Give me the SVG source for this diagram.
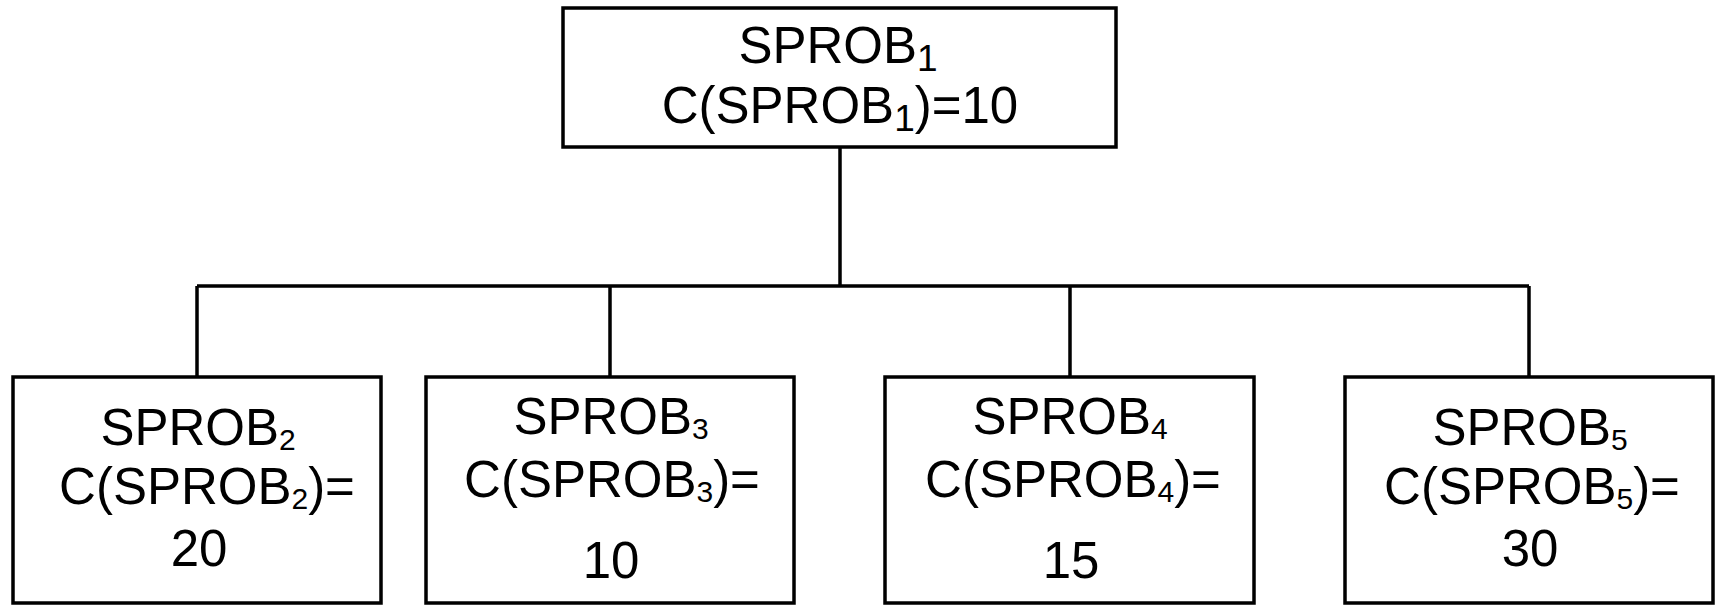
<svg xmlns="http://www.w3.org/2000/svg" width="1715" height="606" viewBox="0 0 1715 606">
<style>
.box{fill:#fff;stroke:#000;stroke-width:3.5}
.ln{fill:none;stroke:#000;stroke-width:3.5}
text{font-family:"Liberation Sans",Arial,sans-serif;font-size:51px;fill:#000;text-anchor:middle}
.s1{font-size:37px}
.s{font-size:30px}
</style>
<rect width="1715" height="606" fill="#fff"/>
<g id="connectors">
<path class="ln" d="M840,147 V286 M197,286 H1529 M197,286 V377 M610,286 V377 M1070,286 V377 M1529,286 V377"/>
</g>
<g id="n1">
<rect class="box" x="563" y="8" width="553" height="139"/>
<text x="838" y="63">SPROB<tspan class="s1" dy="8">1</tspan></text>
<text x="840" y="123">C(SPROB<tspan class="s1" dy="8">1</tspan><tspan dy="-8">)=10</tspan></text>
</g>
<g id="n2">
<rect class="box" x="13" y="377" width="368" height="226"/>
<text x="198" y="445">SPROB<tspan class="s" dy="5">2</tspan></text>
<text x="207" y="504">C(SPROB<tspan class="s" dy="5">2</tspan><tspan dy="-5">)=</tspan></text>
<text x="199" y="566">20</text>
</g>
<g id="n3">
<rect class="box" x="426" y="377" width="368" height="226"/>
<text x="611" y="434">SPROB<tspan class="s" dy="5">3</tspan></text>
<text x="612" y="497">C(SPROB<tspan class="s" dy="5">3</tspan><tspan dy="-5">)=</tspan></text>
<text x="611" y="578">10</text>
</g>
<g id="n4">
<rect class="box" x="885" y="377" width="369" height="226"/>
<text x="1070" y="434">SPROB<tspan class="s" dy="5">4</tspan></text>
<text x="1073" y="497">C(SPROB<tspan class="s" dy="5">4</tspan><tspan dy="-5">)=</tspan></text>
<text x="1071" y="578">15</text>
</g>
<g id="n5">
<rect class="box" x="1345" y="377" width="368" height="226"/>
<text x="1530" y="445">SPROB<tspan class="s" dy="5">5</tspan></text>
<text x="1532" y="504">C(SPROB<tspan class="s" dy="5">5</tspan><tspan dy="-5">)=</tspan></text>
<text x="1530" y="566">30</text>
</g>
</svg>
